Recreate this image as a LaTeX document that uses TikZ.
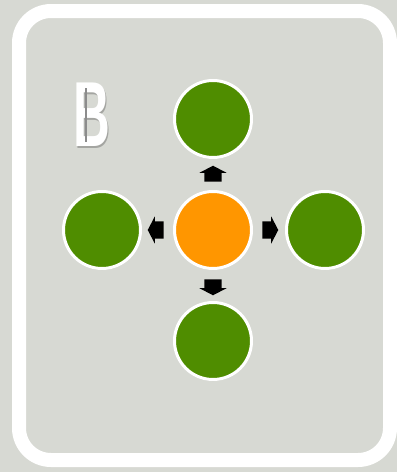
\documentclass[tikz,border=0pt]{standalone}
\usepackage{fontspec}
\usetikzlibrary{shapes.arrows,shadows}
\definecolor{fondo}{HTML}{D7D9D3}
\definecolor{verde}{HTML}{4F8D00}
\definecolor{naranja}{HTML}{FF9600}
\newfontfamily\letrafont{Liberation Sans}
\begin{document}
\begin{tikzpicture}[
    x=1pt, y=-1pt,
    % Estilos de los circulos, flechas y marco
    circulo/.style={circle, fill=#1, draw=white, line width=3pt, minimum size=77pt, inner sep=0pt,
        drop shadow={shadow xshift=0pt, shadow yshift=-1.5pt, opacity=0.25}},
    flecha/.style={single arrow, fill=black, rotate=#1, minimum height=16pt, inner xsep=2pt, inner ysep=8.5pt,
        single arrow head extend=5pt, single arrow tip angle=125},
    marco/.style={draw=white, line width=14pt, rounded corners=32pt},
    letra/.style={xscale=0.58, yscale=1.05, font=\letrafont\bfseries\fontsize{88}{88}\selectfont}
]

% ---------------------------------------------------------
% 1. FONDO Y MARCO
% ---------------------------------------------------------
\fill[fondo] (0,0) rectangle (397,472);
\useasboundingbox (0,0) rectangle (397,472);
\draw[marco] (19,11) rectangle (390,460);

% ---------------------------------------------------------
% 2. LETRA (estarcido)
% ---------------------------------------------------------
\node[letra, text=black!60, opacity=0.45] (sombra) at (93,117) {B};
\node[letra, text=white] (letrab) at (92,115) {B};
\fill[black!45] (84.5,88) rectangle (86.5,142);

% ---------------------------------------------------------
% 3. CIRCULOS
% ---------------------------------------------------------
\node[circulo=naranja] (centro) at (213,230) {};
\node[circulo=verde] (arriba) at (213,119) {};
\node[circulo=verde] (izq) at (102,230) {};
\node[circulo=verde] (der) at (325,230) {};
\node[circulo=verde] (abajo) at (213,341) {};

% ---------------------------------------------------------
% 4. FLECHAS
% ---------------------------------------------------------
\node[flecha=90] (fa) at (213,176) {};
\node[flecha=180] (fi) at (158,230) {};
\node[flecha=0] (fd) at (268,230) {};
\node[flecha=-90] (fb) at (213,285) {};

\end{tikzpicture}
\end{document}
